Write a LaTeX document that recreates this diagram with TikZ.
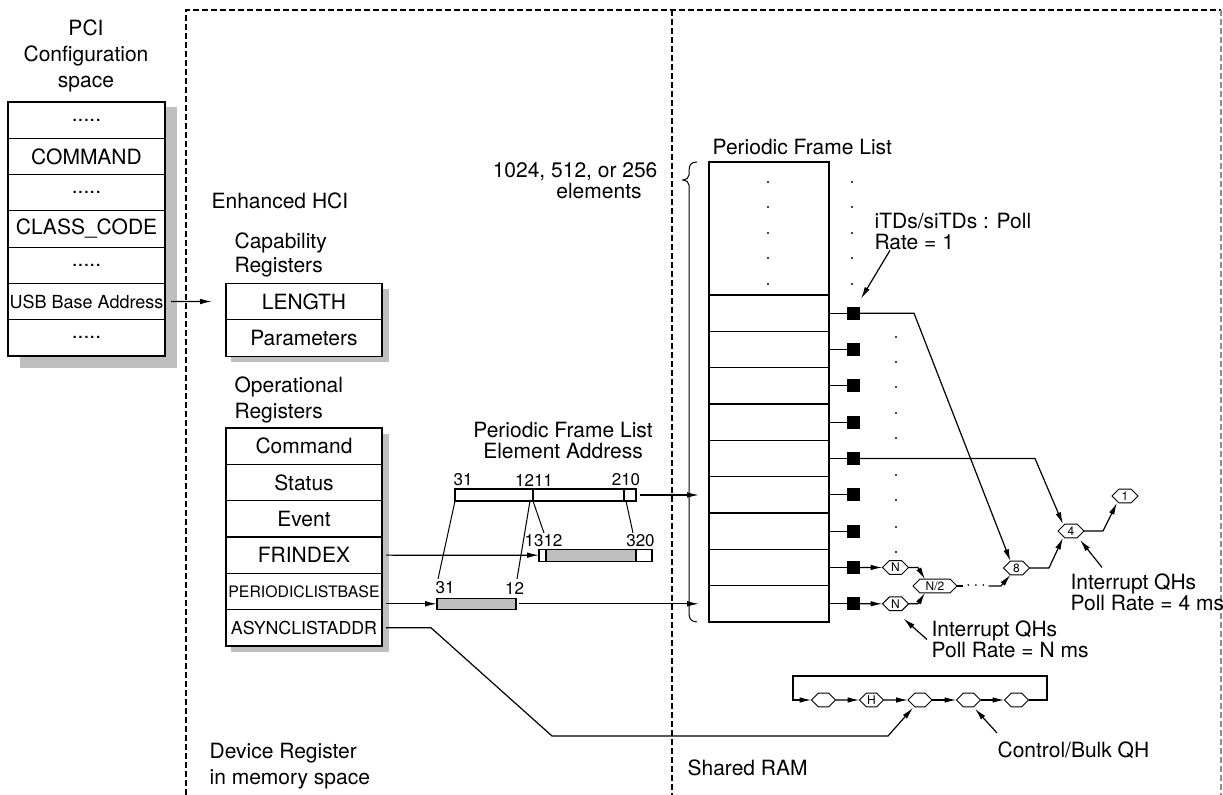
\documentclass[tikz,border=0pt]{standalone}
\usepackage{fontspec}
\setmainfont{TeX Gyre Heros}
\usetikzlibrary{arrows.meta,shapes.symbols}
\newcommand{\fsz}[2]{\fontsize{#1}{#2}\selectfont}

\begin{document}
\begin{tikzpicture}[x=0.5pt,y=-0.5pt,line width=0.6pt,>={Latex[length=6pt,width=2.8pt]}]
        \tikzstyle{reg}=[draw, fill=white, inner sep=0pt, outer sep=0pt, minimum width=78pt, minimum height=18.15pt, font=\fsz{10.5}{12}]
        \tikzstyle{shadowfill}=[fill=black!25]
        \tikzstyle{bitbox}=[draw, inner sep=0pt, outer sep=0pt, minimum height=6pt, anchor=west]
        \tikzstyle{bitnum}=[inner sep=0pt, font=\fsz{8.5}{9}]
        \tikzstyle{txtnote}=[inner sep=0pt, align=left, anchor=west, font=\fsz{10.5}{10.5}]
        \tikzstyle{flrow}=[draw, inner sep=0pt, outer sep=0pt, minimum width=60pt, minimum height=18.17pt]
        \tikzstyle{td}=[fill=black, inner sep=0pt, outer sep=0pt, minimum size=6.5pt]
        \tikzstyle{qh}=[signal, signal to=east and west, signal pointer angle=90, draw, fill=white, line width=0.5pt, inner sep=0pt, outer sep=0pt, minimum width=13pt, minimum height=6.8pt, font=\fsz{6}{6}]

        \useasboundingbox (0,0) rectangle (1223,795);

        % dashed frames
        \draw[dash pattern=on 3pt off 1.5pt] (186,795) -- (186,10) -- (1221,10);
        \draw[dash pattern=on 3pt off 1.5pt, black!45] (1221,10) -- (1221,795);
        \draw[dash pattern=on 3pt off 1.5pt] (672,10) -- (672,795);

        % PCI configuration space
        \node[txtnote, align=center, anchor=center, font=\fsz{10.5}{13}] (pcit) at (86,56) {PCI\\Configuration\\space};
        \fill[shadowfill] (20,107) rectangle (177,368);
        \foreach \i/\t in {1/{.....},2/COMMAND,3/{.....},4/CLASS\_CODE,5/{.....},6/{\fsz{9}{9}USB Base Address},7/{.....}}
            \node[reg, minimum width=78.5pt, minimum height=18.14pt] (p\i) at (86.5,{102+36.29*(\i-0.5)}) {\t};

        % capability registers
        \node[txtnote] (ehci) at (211,201) {Enhanced HCI};
        \node[txtnote, font=\fsz{10.5}{12}] (capt) at (234,255) {Capability\\Registers};
        \fill[shadowfill] (231,289) rectangle (389,362);
        \node[reg] (c1) at (304,302) {LENGTH};
        \node[reg] (c2) at (304,338) {Parameters};

        % operational registers
        \node[txtnote, font=\fsz{10.5}{13}] (opt) at (234,400) {Operational\\Registers};
        \fill[shadowfill] (231,434) rectangle (389,652);
        \foreach \i/\t in {1/Command,2/Status,3/Event,4/FRINDEX,5/{\fsz{7.9}{8}PERIODICLISTBASE},6/{\fsz{8.9}{9}ASYNCLISTADDR}}
            \node[reg, minimum height=18.17pt] (o\i) at (304,{428+36.33*(\i-0.5)}) {\t};
        \node[txtnote, font=\fsz{10.5}{13}] (devt) at (209,766) {Device Register\\in memory space};

        % element address bars
        \node[txtnote, align=center, anchor=center] (pfea) at (563,441) {Periodic Frame List\\Element Address};
        \node[bitbox, minimum width=39pt] (a1) at (455,495) {};
        \node[bitbox, minimum width=45.5pt] (a2) at (a1.east) {};
        \node[bitbox, minimum width=6pt] (a3) at (a2.east) {};
        \node[bitbox, minimum width=3.5pt] (b1) at (539,555.2) {};
        \node[bitbox, minimum width=45pt, fill=black!25] (b2) at (b1.east) {};
        \node[bitbox, minimum width=8pt] (b3) at (b2.east) {};
        \node[bitbox, minimum width=39.5pt, minimum height=5.5pt, fill=black!25] (pb) at (437,603.8) {};
        \foreach \x/\y/\t [count=\k] in {463/480/31, 534/480/1211, 626/480/210, 543.5/541/1312, 640.5/541/320, 445/588/31, 514.5/588/12}
            \node[bitnum] (bn\k) at (\x,\y) {\t};

        \coordinate (d1) at (438,579);
        \coordinate (d2) at (517,579);
        \coordinate (d3) at (544,533);
        \coordinate (d4) at (633,533);
        \draw[line width=0.5pt] (a1.south west) -- (d1);
        \draw[line width=0.5pt] ([xshift=-1.5pt]a1.south east) -- (d2);
        \draw[line width=0.5pt] (a1.south east) -- (d3);
        \draw[line width=0.5pt] ([xshift=1pt]a2.south east) -- (d4);

        % periodic frame list
        \node[txtnote] (pflt) at (712,147) {Periodic Frame List};
        \node[txtnote, anchor=east] (nel) at (658,172) {1024, 512, or 256};
        \node[txtnote, anchor=center] (nel2) at (599,191) {elements};
        \draw[line width=0.5pt] (697,162) .. controls (691,162) and (689,165) .. (689,171) -- (689,175)
            .. controls (689,178) and (686,180) .. (683,180) .. controls (686,180) and (689,182) .. (689,185)
            -- (689,614) .. controls (689,619) and (692,622) .. (697,622);
        \node[flrow, minimum height=66.5pt] (f0) at (769,228.5) {};
        \foreach \i in {1,...,9} {
            \node[flrow] (f\i) at (769,{295+36.33*(\i-0.5)}) {};
            \node[td] (q\i) at (853.5,{295+36.33*(\i-0.5)}) {};
            \draw (f\i.east) -- (q\i.west);
        }
        \foreach \y in {182,207,233,258,284} {
            \fill (768,\y) circle[radius=0.6pt];
            \fill (852,\y) circle[radius=0.6pt];
        }
        \foreach \y in {337,362,387,413,438,475,500,527,552}
            \fill (896,\y) circle[radius=0.6pt];

        \coordinate (usbtip) at (212,301.5);
        \coordinate (fl6) at (699,494.8);
        \coordinate (fl9) at (699,603.8);
        \draw[->] ([xshift=3pt]p6.east) -- (usbtip);
        \draw[->] ([xshift=2pt]a3.east) -- (a3.east -| fl6);
        \draw[->] ([xshift=2pt]o4.east) -- (b1.west);
        \draw[->] ([xshift=2pt]pb.west -| o5.east) -- (pb.west);
        \draw[->] ([xshift=1.5pt]pb.east) -- (pb.east -| fl9);

        % interrupt tree
        \node[qh] (n1) at (895.5,567.5) {N};
        \node[qh] (n2) at (895.5,603.8) {N};
        \node[qh, minimum width=22pt] (nh) at (935,586) {N/2};
        \node[inner sep=1pt, font=\fsz{8}{8}] (ell) at (976,586) {$\cdots$};
        \node[qh] (e8) at (1016.5,568) {8};
        \node[qh] (e4) at (1071,531) {4};
        \node[qh] (e1) at (1125,496) {1};

        \coordinate (k1) at (918,567.5);
        \coordinate (k2) at (918,603.8);
        \coordinate (k3) at (1001,586);
        \coordinate (k4) at (914,313.2);
        \coordinate (k5) at (1035,458.5);
        \coordinate (k6) at (1049,568);
        \coordinate (k7) at (1103,531);
        \foreach \from/\to in {q8/n1,q9/n2}
            \draw[->] (\from) -- (\to);
        \draw[->] (n1.east) -- (k1) -- ([xshift=-5pt]nh.north);
        \draw[->] (n2.east) -- (k2) -- ([xshift=-5pt]nh.south);
        \draw (nh.east) -- (ell.west);
        \draw[->] (ell.east) -- (k3) -- ([xshift=-3pt]e8.south);
        \draw[->] (q1.east) -- (k4) -- ([xshift=-3pt]e8.north);
        \draw[->] (q5.east) -- (k5) -- ([xshift=-4pt]e4.north);
        \draw[->] (e8.east) -- (k6) -- ([xshift=-4pt]e4.south);
        \draw[->] (e4.east) -- (k7) -- ([xshift=-4pt]e1.south);

        \node[txtnote] (itd) at (874,231.5) {iTDs/siTDs : Poll\\Rate = 1};
        \node[txtnote] (iq4) at (1070,592.5) {Interrupt QHs\\Poll Rate = 4 ms};
        \node[txtnote] (iqn) at (931,639.5) {Interrupt QHs\\Poll Rate = N ms};
        \draw[->] ([xshift=8pt]itd.south west) -- ([xshift=0.5pt,yshift=4pt]q1.north east);
        \draw[->] ([xshift=16pt,yshift=3pt]iq4.north west) -- ([xshift=4.5pt,yshift=-1pt]e4.south);
        \draw[->] ([xshift=-2pt]iqn.west) -- ([xshift=4pt,yshift=-4pt]n2.south);

        % asynchronous list
        \foreach \i/\x/\t in {1/823.5/{},2/871.5/H,3/920/{},4/968.5/{},5/1016.5/{}}
            \node[qh, minimum width=12pt] (h\i) at (\x,700) {\t};
        \foreach \from/\to in {h1/h2,h2/h3,h3/h4,h4/h5}
            \draw[->] (\from) -- (\to);
        \coordinate (ra) at (1047,676);
        \coordinate (rb) at (793,676);
        \draw[->] (h5.east) -| (ra) -- (rb) |- (h1.west);

        \coordinate (s1) at (431,627.8);
        \coordinate (s2) at (552,736);
        \coordinate (s3) at (888,736);
        \draw[->] ([xshift=2pt]o6.east) -- (s1) -- (s2) -- (s3) -- ([xshift=-3.5pt,yshift=-0.5pt]h3.south);

        \node[txtnote] (cbq) at (997,750) {Control/Bulk QH};
        \draw[->] ([yshift=4pt]cbq.north west) -- ([xshift=3.25pt,yshift=-1pt]h4.south);

        \node[txtnote] (ram) at (687,768) {Shared RAM};
\end{tikzpicture}
\end{document}
